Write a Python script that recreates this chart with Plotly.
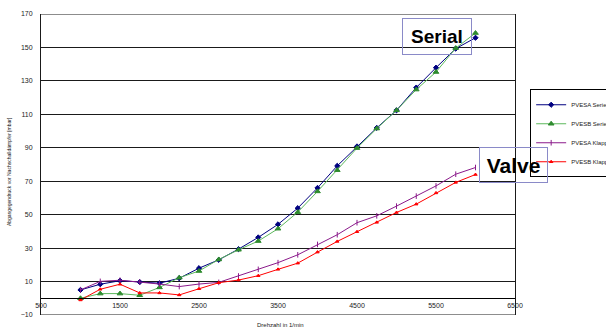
import plotly.graph_objects as go

# Engine speed (1/min)
rpm = [1000, 1250, 1500, 1750, 2000, 2250, 2500, 2750, 3000, 3250, 3500,
       3750, 4000, 4250, 4500, 4750, 5000, 5250, 5500, 5750, 6000]

# Exhaust back pressure upstream of the rear silencer (mbar)
pvesa_serie = [5.0, 8.4, 10.5, 9.7, 9.0, 12.0, 18.0, 23.0, 29.4, 36.4, 44.2,
               53.9, 66.0, 79.2, 90.8, 101.9, 112.4, 126.0, 137.9, 149.3, 155.8]
pvesb_serie = [0.0, 2.8, 2.8, 1.8, 6.5, 12.3, 16.3, 23.2, 29.0, 34.2, 41.6,
               51.5, 63.9, 76.6, 89.8, 101.5, 112.4, 124.8, 135.3, 149.6, 158.6]
pvesa_klappe = [5.0, 10.1, 10.8, 9.7, 8.5, 7.0, 8.5, 9.5, 13.3, 17.3, 21.3,
                26.0, 32.2, 38.0, 45.2, 49.3, 55.1, 61.1, 67.2, 74.2, 78.2]
pvesb_klappe = [-1.0, 5.4, 8.4, 3.2, 3.2, 2.0, 5.7, 9.3, 10.9, 13.5, 17.3,
                21.0, 27.6, 34.0, 39.8, 45.4, 51.3, 56.3, 63.0, 69.3, 74.0]

series = [
    ("PVESA Serie", pvesa_serie, "#000080", "#000080", "diamond", 4),
    ("PVESB Serie", pvesb_serie, "#5cb85c", "#2e8b2e", "triangle-up", 5),
    ("PVESA Klappe", pvesa_klappe, "#8b1a8b", "#8b1a8b", "line-ns-open", 4),
    ("PVESB Klappe", pvesb_klappe, "#ff0000", "#ff0000", "triangle-up", 3),
]

fig = go.Figure()
for name, vals, lcolor, mcolor, symbol, size in series:
    fig.add_trace(go.Scatter(
        x=rpm, y=vals, name=name, mode="lines+markers",
        line=dict(color=lcolor, width=1),
        marker=dict(color=mcolor, symbol=symbol, size=size,
                    line=dict(color=mcolor, width=1)),
    ))

tick_font = dict(family="Arial, Liberation Sans, sans-serif", size=7, color="#222")

# top and bottom frame lines of the plot area
frame = [
    dict(type="line", xref="paper", yref="y", x0=0, x1=1, y0=v, y1=v,
         line=dict(color="#1a1a1a", width=1), layer="below")
    for v in (-10, 170)
]

fig.update_layout(
    width=606, height=331,
    margin=dict(l=41, r=91, t=14, b=16, autoexpand=False),
    paper_bgcolor="white", plot_bgcolor="white",
    showlegend=True,
    legend=dict(
        x=1.032, y=0.75, xanchor="left", yanchor="top",
        bordercolor="black", borderwidth=1, bgcolor="white",
        font=dict(family="Arial, Liberation Sans, sans-serif", size=6, color="#222"),
        tracegroupgap=0, itemwidth=30,
    ),
    xaxis=dict(
        range=[500, 6500], tick0=500, dtick=1000,
        showgrid=False, zeroline=False,
        anchor="free", position=10 / 180,
        showline=True, linecolor="black", linewidth=1,
        ticks="", tickfont=tick_font,
    ),
    yaxis=dict(
        range=[-10, 170], tick0=-10, dtick=20,
        showgrid=True, gridcolor="#1a1a1a", gridwidth=1,
        zeroline=False,
        showline=True, linecolor="#1a1a1a", linewidth=1, mirror=True,
        ticks="outside", ticklen=6, tickcolor="rgba(0,0,0,0)",
        tickfont=tick_font,
    ),
    shapes=frame,
    annotations=[
        dict(text="Drehzahl in 1/min", xref="paper", yref="paper",
             x=(280 - 41) / 474, y=-0.018, xanchor="center", yanchor="top",
             showarrow=False,
             font=dict(family="Arial, Liberation Sans, sans-serif", size=6, color="#222")),
        dict(text="Abgasgegendruck vor Nachschalldämpfer [mbar]",
             xref="paper", yref="paper", x=(9 - 41) / 474, y=0.475,
             xanchor="center", yanchor="middle", textangle=-90, showarrow=False,
             font=dict(family="Arial, Liberation Sans, sans-serif", size=5, color="#222")),
        dict(text="<b>Serial</b>", xref="x", yref="y", x=5513, y=156.6,
             showarrow=False, width=68, height=35, borderpad=0,
             bordercolor="#8a8ac8", borderwidth=1,
             font=dict(family="Arial, Liberation Sans, sans-serif", size=19, color="black")),
        dict(text="<b>Valve</b>", xref="x", yref="y", x=6475, y=79.6,
             showarrow=False, width=67, height=34, borderpad=0,
             bordercolor="#8a8ac8", borderwidth=1,
             font=dict(family="Arial, Liberation Sans, sans-serif", size=21, color="black")),
    ],
)

fig.write_html("out.html")
